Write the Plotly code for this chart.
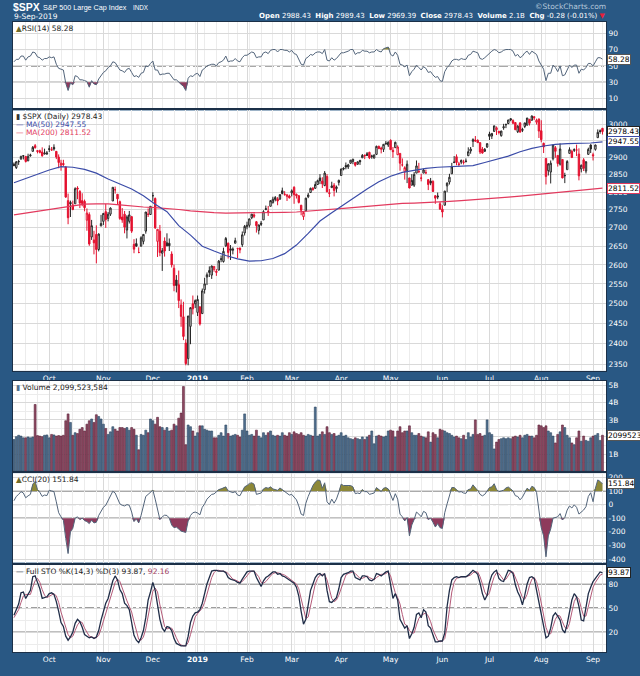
import math
import pandas as pd
import plotly.graph_objects as go

# ---------------- data ----------------
START = '2018-09-10'
END = '2019-09-09'
HOLIDAYS = ['2018-11-22', '2018-12-05', '2018-12-25', '2019-01-01', '2019-01-21',
            '2019-02-18', '2019-04-19', '2019-05-27', '2019-07-04', '2019-09-02']
MONTH_LABELS = ['Oct', 'Nov', 'Dec', '<b>2019</b>', 'Feb', 'Mar', 'Apr', 'May', 'Jun', 'Jul', 'Aug', 'Sep']

OPEN = [2881,2871,2888,2896,2906,2904,2891,2906,2919,2936,2921,2921,2917,2911,2911,
        2927,2924,2931,2919,2902,2878,2883,2873,2776,2771,2764,2767,2812,2802,2776,2774,2721,2737,2675,2667,2682,2641,2705,
        2718,2745,2726,2738,2775,2807,2794,2773,2730,2738,2694,2718,2731,2655,2657,2633,2650,2663,2691,2737,2737,
        2790,2782,2663,2691,2631,2664,2659,2658,2629,2591,2560,2548,2496,2466,2401,2363,2442,2499,2499,
        2477,2491,2474,2535,2568,2580,2573,2588,2580,2586,2614,2609,2651,2658,2643,2639,2658,2644,2645,2654,2686,
        2703,2707,2728,2736,2717,2693,2713,2722,2751,2744,2760,2770,2779,2781,2780,2804,2793,2788,2789,
        2798,2814,2794,2790,2763,2731,2747,2787,2799,2811,2811,2822,2841,2832,2819,2845,2796,2813,2820,2810,2828,
        2848,2869,2877,2873,2884,2889,2886,2881,2892,2900,2908,2912,2916,2904,2899,2910,2934,2929,2925,2941,2938,
        2952,2922,2930,2909,2913,2879,2859,2863,2841,2820,2820,2855,2859,2841,2855,2856,2836,2832,2831,2790,2786,2767,
        2752,2763,2818,2829,2853,2886,2903,2882,2887,2886,2889,2906,2920,2949,2953,2952,2945,2926,2919,2932,
        2971,2965,2979,2984,2979,2966,2990,2999,3003,3018,3012,3006,2978,3005,2982,2994,2998,3016,3013,3024,3007,3017,
        2981,2943,2898,2862,2858,2897,2930,2907,2881,2895,2847,2865,2913,2919,2922,2923,2911,2867,2894,2861,2910,2938,
        2909,2925,2960,2981,2988.43]
HIGH = [2886,2890,2894,2906,2908,2905,2912,2912,2935,2941,2923,2924,2931,2927,2920,
        2937,2932,2940,2920,2910,2894,2894,2874,2796,2776,2776,2814,2817,2806,2797,2779,2754,2743,2722,2692,2707,2685,2736,
        2741,2767,2744,2757,2814,2816,2794,2776,2755,2747,2735,2747,2733,2669,2671,2647,2677,2682,2744,2754,2760,
        2800,2785,2696,2708,2645,2674,2685,2671,2636,2601,2573,2585,2510,2504,2410,2468,2490,2520,2510,
        2520,2493,2538,2566,2580,2596,2598,2597,2589,2613,2625,2646,2675,2660,2653,2647,2673,2645,2646,2690,2708,
        2717,2725,2738,2740,2719,2709,2719,2749,2762,2761,2775,2787,2789,2786,2794,2813,2803,2795,2793,
        2808,2817,2796,2791,2764,2745,2784,2798,2813,2815,2831,2836,2852,2843,2861,2852,2809,2830,2826,2819,2836,
        2868,2872,2886,2882,2893,2896,2886,2889,2894,2911,2909,2917,2918,2909,2910,2936,2936,2933,2940,2950,2949,
        2955,2932,2948,2937,2913,2898,2875,2892,2841,2852,2858,2892,2885,2853,2868,2865,2837,2841,2834,2791,2799,2772,
        2763,2804,2828,2853,2885,2905,2910,2888,2895,2894,2898,2931,2932,2958,2965,2955,2946,2932,2929,2943,
        2978,2973,2996,2994,2981,2981,3002,3003,3014,3018,3016,3006,2998,3007,2990,3005,3020,3017,3028,3025,3018,3018,
        3013,2945,2898,2884,2892,2938,2935,2907,2943,2895,2856,2893,2931,2924,2928,2939,2928,2880,2899,2890,2930,2940,
        2915,2939,2985,2985,2989.43]
LOW = [2875,2867,2879,2895,2895,2886,2890,2903,2919,2927,2913,2913,2903,2910,2909,
       2917,2921,2921,2896,2869,2862,2875,2784,2710,2730,2749,2767,2780,2755,2760,2746,2692,2651,2667,2628,2604,2636,2705,
       2708,2700,2718,2733,2775,2796,2764,2722,2714,2685,2671,2712,2686,2631,2649,2631,2649,2655,2684,2730,2737,
       2774,2697,2621,2623,2584,2622,2650,2637,2593,2531,2528,2488,2441,2408,2347,2347,2398,2472,2488,
       2468,2444,2474,2525,2547,2568,2563,2582,2571,2586,2607,2606,2648,2617,2613,2628,2658,2618,2631,2648,2679,
       2696,2701,2724,2727,2687,2682,2705,2722,2749,2733,2760,2768,2774,2763,2779,2794,2790,2775,2782,
       2788,2767,2782,2768,2735,2722,2747,2783,2799,2804,2810,2821,2823,2812,2817,2800,2786,2812,2788,2799,2819,
       2848,2863,2866,2867,2882,2881,2874,2879,2879,2899,2896,2905,2896,2897,2898,2908,2926,2913,2917,2939,2932,
       2923,2900,2930,2908,2862,2874,2836,2826,2811,2820,2815,2855,2855,2831,2855,2852,2806,2820,2801,2767,2780,2751,
       2729,2763,2800,2822,2853,2884,2878,2874,2881,2880,2886,2905,2912,2932,2948,2944,2911,2912,2918,2929,
       2953,2956,2978,2968,2970,2963,2984,2989,3001,3010,3001,2984,2974,2975,2977,2989,2997,2997,3012,3014,3000,2959,
       2946,2914,2822,2848,2825,2892,2900,2874,2877,2840,2826,2865,2913,2899,2917,2905,2834,2857,2861,2854,2910,2914,
       2892,2921,2960,2972,2969.39]
CLOSE = [2877,2888,2889,2904,2905,2889,2904,2908,2931,2930,2919,2916,2906,2914,2914,
         2925,2923,2926,2902,2886,2884,2880,2786,2728,2767,2751,2810,2809,2769,2768,2756,2741,2656,2706,2659,2641,2683,2712,
         2740,2723,2738,2755,2814,2807,2781,2726,2722,2702,2730,2736,2691,2642,2650,2633,2673,2682,2744,2738,2760,
         2790,2700,2696,2633,2638,2637,2651,2651,2600,2546,2546,2507,2467,2417,2351,2468,2489,2486,2507,
         2510,2448,2532,2550,2574,2585,2597,2596,2583,2610,2616,2636,2671,2633,2639,2642,2665,2644,2640,2681,2704,
         2707,2725,2738,2732,2706,2708,2710,2745,2753,2746,2776,2780,2785,2775,2793,2796,2794,2792,2784,
         2804,2793,2790,2771,2749,2743,2783,2792,2811,2808,2822,2833,2833,2824,2855,2801,2798,2818,2805,2815,2834,
         2867,2867,2873,2879,2893,2896,2878,2888,2888,2907,2906,2907,2900,2905,2908,2934,2927,2926,2940,2943,2946,
         2924,2918,2946,2932,2884,2879,2871,2881,2812,2834,2851,2876,2860,2840,2864,2856,2822,2826,2802,2783,2789,2752,
         2744,2803,2826,2843,2873,2887,2886,2880,2892,2887,2890,2918,2926,2954,2950,2945,2917,2914,2925,2942,
         2964,2973,2996,2990,2976,2980,2993,3000,3014,3014,3004,2984,2995,2977,2985,3005,3020,3004,3026,3021,3013,2980,
         2954,2932,2845,2882,2884,2938,2919,2883,2926,2841,2848,2889,2924,2901,2924,2923,2847,2878,2869,2888,2925,2926,
         2906,2938,2976,2978.71,2978.43]
VOLUME_B = [1.85,2.02,2.10,2.05,1.95,1.95,2.00,1.95,2.00,3.90,2.08,2.05,2.02,2.10,2.12,
            1.95,2.15,2.12,2.05,2.08,2.05,2.10,2.95,3.35,2.85,2.10,2.25,2.20,2.45,2.55,2.35,2.75,2.95,3.05,2.85,3.30,3.20,3.05,
            2.75,2.50,2.15,2.30,2.60,2.45,2.35,2.55,2.55,2.50,2.55,2.40,2.55,2.45,2.10,1.25,2.15,2.10,2.40,2.25,3.05,
            2.95,2.75,3.15,2.60,2.55,2.40,2.55,2.35,2.40,2.75,2.65,3.10,3.40,4.95,1.55,2.70,2.60,2.35,2.05,
            2.25,2.65,2.65,2.45,2.40,2.35,2.35,1.95,1.95,2.10,2.25,2.05,2.70,2.20,2.05,2.10,2.15,2.10,2.00,2.40,3.35,
            2.35,2.10,2.15,2.05,2.40,2.05,1.95,2.25,2.10,2.25,2.35,2.10,2.05,2.10,2.05,2.25,2.10,2.05,2.25,
            2.15,2.30,2.20,2.15,2.25,2.10,2.05,2.15,2.10,2.05,3.75,2.05,2.15,2.30,2.15,2.60,2.25,2.15,2.20,2.05,2.10,
            2.25,2.05,2.10,1.95,1.90,1.85,1.95,1.90,1.85,2.00,1.85,2.00,2.10,2.35,1.60,2.05,2.10,2.05,2.00,2.05,2.35,
            2.40,2.35,2.00,2.35,2.60,2.25,2.35,2.35,2.65,2.25,2.10,2.10,2.20,2.05,2.00,1.95,2.30,1.70,2.25,2.15,1.95,2.45,
            2.40,2.35,2.25,2.20,2.10,2.00,2.05,1.95,1.90,2.10,1.85,2.25,2.00,2.15,3.00,2.15,2.20,2.05,2.10,3.00,
            2.25,2.15,1.30,1.70,1.85,1.90,1.95,1.90,1.95,1.90,2.00,2.05,2.00,2.10,1.95,2.10,2.15,2.05,2.05,1.95,2.10,2.70,
            2.65,2.55,2.65,2.35,2.25,2.05,1.65,2.15,2.30,2.70,2.55,2.10,1.95,1.65,1.55,1.95,2.35,1.75,2.05,1.80,1.75,1.95,
            2.05,2.10,2.20,1.80,2.099523584]

MA_IDX = list(range(0, 251, 5))
MA50 = [2827,2840,2853,2864,2874,2872,2866,2855,2838,2824,
        2809,2790,2766,2745,2706,2680,2650,2637,2625,2616,
        2610,2611,2617,2630,2653,2685,2719,2742,2764,2788,
        2809,2830,2846,2857,2864,2869,2872,2873,2874,2877,
        2886,2895,2905,2918,2928,2935,2940,2942,2943,2944,2947.55]
MA200 = [2736,2741,2746,2752,2758,2763,2766,2767,2767,2764,
         2760,2758,2756,2754,2751,2747,2744,2742,2741,2741,
         2741,2741,2742,2743,2744,2746,2748,2751,2754,2757,
         2760,2763,2766,2768,2769,2770,2772,2774,2776,2778,
         2780,2783,2786,2789,2792,2795,2799,2802,2805,2808,2811.52]

RSI = [55,58,58,62,62,57,61,62,67,66,61,60,57,59,59,61,60,61,
       52,47,46,45,29,20,29,27,38,37,33,33,32,31,24,32,28,27,34,38,
       42,44,48,50,55,54,50,45,44,42,46,47,42,37,38,36,41,42,50,49,53,56,
       45,45,39,40,40,41,41,37,33,33,30,27,25,20,35,38,37,40,
       41,37,45,47,50,51,52,52,50,54,55,57,62,55,56,56,59,56,55,60,63,63,
       65,67,66,60,61,61,66,67,65,69,70,70,67,70,70,69,69,67,69,65,64,58,52,51,59,61,64,63,66,67,67,65,70,57,56,60,57,59,62,
       66,66,67,68,70,70,64,66,66,69,68,68,66,67,67,70,68,67,71,72,73,
       64,62,67,63,52,51,49,51,38,43,46,51,48,45,49,47,42,43,39,36,37,32,
       31,43,48,51,56,58,58,57,59,58,58,63,64,68,67,66,59,58,60,63,
       66,68,70,69,66,67,69,70,70,70,68,62,64,60,62,66,68,64,68,66,64,56,
       50,46,32,41,41,51,48,43,50,38,39,46,51,48,51,51,41,46,45,48,53,53,
       50,55,60,60,58.28]

CCI = [28,60,75,95,85,50,64,75,150,170,110,90,60,70,66,105,100,95,20,-60,-90,-115,-250,-360,-200,-175,-100,-90,-110,-100,
       -118,-125,-140,-115,-135,-130,-80,-50,-20,-5,30,70,98,85,40,5,-5,-10,0,-5,-55,-125,-105,-135,-80,-10,60,75,90,106,
       40,-30,-110,-90,-78,-80,-100,-150,-170,-165,-180,-195,-200,-205,-120,-80,-60,-55,-62,-75,-20,5,40,60,75,78,95,110,115,120,
       130,100,92,88,95,70,65,100,130,140,155,160,150,75,80,85,115,125,120,130,115,110,105,122,110,95,85,70,75,55,
       35,-10,-70,-80,10,60,100,140,165,180,178,
       120,160,20,0,40,10,40,90,150,140,140,135,140,130,80,85,80,110,95,95,75,80,85,125,110,95,120,125,115,65,
       30,80,40,-70,-90,-120,-95,-230,-150,-110,-55,-70,-90,-50,-60,-110,-100,-130,-165,-140,
       -170,-175,-60,5,60,125,125,110,92,95,85,82,110,115,145,122,105,75,64,75,99,125,130,153,111,95,100,106,122,129,
       115,100,65,60,35,55,87,120,105,134,125,90,-40,-170,-230,-384,-230,-180,-100,-95,
       -90,-66,-113,-95,-40,-10,-25,-2,-20,-70,-55,-40,-15,60,87,21,120,181,170,151.84]

STO_K = [41,48,55,69,70,62,68,72,89,90,82,74,62,63,64,68,69,67,58,46,32,27,15,10,14,20,31,36,33,26,
         17,15,13,14,12,14,22,35,45,56,62,72,84,90,85,73,68,56,53,48,34,16,10,7,13,22,38,60,70,82,
         72,55,36,25,21,27,26,22,12,6,4,3,3,3,15,32,40,44,45,48,56,68,80,88,96,97,97,96,96,96,
         94,88,86,85,84,82,81,86,90,95,96,96,96,88,82,77,84,88,90,93,95,95,92,93,90,89,87,85,84,81,
         76,65,46,30,36,52,72,80,88,92,93,
         90,93,72,58,57,60,63,74,88,92,93,94,96,96,88,87,85,90,90,89,85,84,86,93,92,90,93,95,96,78,
         62,68,60,36,30,25,28,12,18,26,42,44,38,48,45,28,25,15,8,8,
         9,9,19,52,72,85,88,89,88,89,89,89,91,94,97,95,92,81,68,60,66,82,91,95,97,87,84,83,91,97,
         96,93,79,70,64,54,66,80,88,89,87,72,55,40,25,13,15,25,40,44,
         40,35,23,19,30,45,60,68,64,52,35,34,50,68,76,83,87,91,95,93.87]
STO_D = [38,43,48,57,65,67,67,67,76,84,87,82,73,66,63,65,67,68,65,57,45,35,25,17,13,15,22,29,33,32,
         25,19,15,14,13,13,16,24,34,45,54,63,73,82,86,83,75,66,59,52,45,33,20,11,10,14,24,40,56,71,
         75,70,54,39,27,24,25,25,20,13,7,4,3,3,7,17,29,39,43,46,50,57,68,79,88,94,97,97,96,96,
         95,93,89,86,85,84,82,83,86,90,94,96,96,93,89,82,81,83,87,90,93,94,94,93,92,91,89,87,85,83,
         80,74,62,47,37,39,53,68,80,87,91,
         92,92,85,74,62,58,60,66,75,85,91,93,94,95,93,90,87,87,88,90,88,86,85,88,90,92,92,93,95,90,
         79,69,63,55,42,30,28,22,19,19,29,37,41,43,44,40,33,23,16,10,
         8,9,12,27,48,70,82,87,88,89,89,89,90,91,94,95,95,89,80,70,65,69,80,89,94,93,89,85,86,90,
         95,95,89,81,71,63,61,67,78,86,88,83,71,56,40,26,18,18,27,36,
         41,40,33,26,24,31,45,58,64,61,50,40,40,51,65,76,82,87,91,92.16]

PRICE_TICKS = [2350, 2400, 2450, 2500, 2550, 2600, 2650, 2700, 2750, 2800, 2850, 2900, 2950, 3000]
PRICE_HIDDEN = [2950]          # label hidden behind the value tag in the reference
VOL_TICKS_B = [1, 2, 3, 4, 5]
VOL_HIDDEN = [2]
RSI_TICKS = [10, 30, 50, 70, 90]
CCI_TICKS = [200, 100, 0, -100, -200, -300, -400]
STO_TICKS = [20, 50, 80]
RSI_LEVELS = (30, 50, 70)
CCI_LEVELS = (-100, 0, 100)
STO_LEVELS = (20, 50, 80)

# ---------------- derived positions ----------------
N = len(CLOSE)
for arr in (OPEN, HIGH, LOW, VOLUME_B, RSI, CCI, STO_K, STO_D):
    assert len(arr) == N, len(arr)
hol = set(HOLIDAYS)
dates = [d for d in pd.bdate_range(START, END) if d.strftime('%Y-%m-%d') not in hol]
assert len(dates) == N, len(dates)
X = list(range(N))
month_idx = [i for i in range(1, N) if dates[i].month != dates[i - 1].month]
week_idx = [i for i in range(1, N) if dates[i].weekday() < dates[i - 1].weekday()]
up = [True] + [CLOSE[i] >= CLOSE[i - 1] for i in range(1, N)]

# ---------------- styling ----------------
W, H = 640, 676
PL, PR, PT, PB = 12, 608, 22, 663
BG = '#295884'
FRAME = '#1b3048'
GRID = '#d9d9d9'
MGRID = '#ececec'
FONT = 'DejaVu Sans'
TICKFONT = dict(family=FONT, size=7.5, color='white')
XRANGE = [-0.4, 251.5]

def dom(top_px, bot_px):
    return [(PB - bot_px) / (PB - PT), (PB - top_px) / (PB - PT)]

def ypx(px):
    return (PB - px) / (PB - PT)

def xpx(px):
    return (px - PL) / (PR - PL)

fig = go.Figure()

def band(vals, level, above, color, xa, ya):
    clipped = [max(v, level) if above else min(v, level) for v in vals]
    return [go.Scatter(x=X, y=[level] * N, mode='lines', line=dict(width=0), hoverinfo='skip', xaxis=xa, yaxis=ya),
            go.Scatter(x=X, y=clipped, mode='lines', line=dict(width=0), fill='tonexty', fillcolor=color,
                       hoverinfo='skip', xaxis=xa, yaxis=ya)]

OLIVE = '#8d8838'
MAROON = '#8e3a5c'
IND_LINE = '#52647a'

# RSI panel
for t in band(RSI, RSI_LEVELS[2], True, OLIVE, 'x', 'y') + band(RSI, RSI_LEVELS[0], False, MAROON, 'x', 'y'):
    fig.add_trace(t)
fig.add_trace(go.Scatter(x=X, y=RSI, mode='lines', line=dict(color=IND_LINE, width=1), xaxis='x', yaxis='y'))

# Price panel
def candles(ids, color):
    return go.Candlestick(x=ids, open=[OPEN[i] for i in ids], high=[HIGH[i] for i in ids],
                          low=[LOW[i] for i in ids], close=[CLOSE[i] for i in ids],
                          increasing=dict(line=dict(color=color, width=1), fillcolor='white'),
                          decreasing=dict(line=dict(color=color, width=1), fillcolor=color),
                          whiskerwidth=0, xaxis='x2', yaxis='y2', hoverinfo='skip')

MA50_C = '#3b4ca8'
MA200_C = '#e23a5e'
UP_C = '#262626'
DN_C = '#e4112f'
fig.add_trace(go.Scatter(x=MA_IDX, y=MA200, mode='lines', line=dict(color=MA200_C, width=1.2), xaxis='x2', yaxis='y2'))
fig.add_trace(go.Scatter(x=MA_IDX, y=MA50, mode='lines', line=dict(color=MA50_C, width=1.2), xaxis='x2', yaxis='y2'))
fig.add_trace(candles([i for i in X if up[i]], UP_C))
fig.add_trace(candles([i for i in X if not up[i]], DN_C))

# Volume
fig.add_trace(go.Bar(x=X, y=[v * 1e9 for v in VOLUME_B], width=0.82,
                     marker=dict(color=['#51708f' if u else '#8f4a64' for u in up],
                                 line=dict(color=['#2b4560' if u else '#5b2238' for u in up], width=0.6)),
                     xaxis='x3', yaxis='y3', hoverinfo='skip'))

# CCI
for t in band(CCI, CCI_LEVELS[2], True, OLIVE, 'x4', 'y4') + band(CCI, CCI_LEVELS[0], False, MAROON, 'x4', 'y4'):
    fig.add_trace(t)
fig.add_trace(go.Scatter(x=X, y=CCI, mode='lines', line=dict(color=IND_LINE, width=1), xaxis='x4', yaxis='y4'))

# Full STO
fig.add_trace(go.Scatter(x=X, y=STO_D, mode='lines', line=dict(color='#b45a78', width=1), xaxis='x5', yaxis='y5'))
fig.add_trace(go.Scatter(x=X, y=STO_K, mode='lines', line=dict(color='#202d48', width=1.3), xaxis='x5', yaxis='y5'))

# ---------------- axes ----------------
def xcfg(anchor, labels, match=True):
    d = dict(anchor=anchor, domain=[0, 1], range=XRANGE, tickmode='array', tickvals=month_idx,
             ticktext=MONTH_LABELS, showticklabels=labels, ticks='', tickfont=TICKFONT,
             showgrid=True, gridcolor=GRID, gridwidth=1, zeroline=False,
             showline=True, mirror=True, linecolor=FRAME, linewidth=1, fixedrange=True,
             minor=dict(tickmode='array', tickvals=week_idx, showgrid=True, gridcolor=MGRID, ticks=''))
    if match:
        d['matches'] = 'x'
    return d

def ycfg(anchor, domain, rng, tickvals, ticktext, typ='linear', minor=None):
    d = dict(anchor=anchor, domain=domain, range=rng, type=typ, side='right', tickmode='array',
             tickvals=tickvals, ticktext=ticktext, ticks='', tickfont=TICKFONT,
             showgrid=True, gridcolor=GRID, gridwidth=1, zeroline=False,
             showline=True, mirror=True, linecolor=FRAME, linewidth=1, fixedrange=True)
    if minor:
        d['minor'] = dict(tickmode='array', tickvals=minor, showgrid=True, gridcolor=MGRID, ticks='')
    return d

price_lo = 3000 * math.exp(-(377 - 126.3) / 998)
price_hi = 3000 * math.exp((126.3 - 112) / 998)

fig.update_layout(
    xaxis=xcfg('y', False, match=False),
    xaxis2=dict(xcfg('y2', True), rangeslider=dict(visible=False)),
    xaxis3=xcfg('y3', False),
    xaxis4=xcfg('y4', False),
    xaxis5=xcfg('y5', True),
    yaxis=ycfg('x', dom(22, 110), [-2, 103.6], RSI_TICKS, [str(v) for v in RSI_TICKS]),
    yaxis2=ycfg('x2', dom(112, 377), [math.log10(price_lo), math.log10(price_hi)], PRICE_TICKS,
                ['' if v in PRICE_HIDDEN else str(v) for v in PRICE_TICKS], typ='log'),
    yaxis3=ycfg('x3', dom(387, 479), [0, 5.29e9], [v * 1e9 for v in VOL_TICKS_B],
                ['' if v in VOL_HIDDEN else f'{v}B' for v in VOL_TICKS_B],
                minor=[v * 1e9 - 0.5e9 for v in VOL_TICKS_B]),
    yaxis4=ycfg('x4', dom(481, 572), [-426, 231], CCI_TICKS, [str(v) for v in CCI_TICKS]),
    yaxis5=ycfg('x5', dom(574, 663), [-4.7, 104.2], STO_TICKS, [str(v) for v in STO_TICKS],
                minor=[5, 35, 65, 95]),
)

shapes = []
for xa, ya, levels in (('x', 'y', RSI_LEVELS), ('x4', 'y4', CCI_LEVELS), ('x5', 'y5', STO_LEVELS)):
    for k, lv in enumerate(levels):
        mid = (k == 1)
        shapes.append(dict(type='line', xref=f'{xa} domain', x0=0, x1=1, yref=ya, y0=lv, y1=lv, layer='below',
                           line=dict(color='#222' if mid else '#444', width=1, dash='dashdot' if mid else 'solid')))

# ---------------- annotations ----------------
ann = []
def tag(text, y, yref, border):
    ann.append(dict(text=text, x=1, xref='paper', xanchor='left', xshift=1, y=y, yref=yref, yanchor='middle',
                    showarrow=False, bgcolor='white', bordercolor=border, borderwidth=1, borderpad=0,
                    font=dict(family=FONT, size=7.5, color='black')))

tag(f'{RSI[-1]:.2f}', RSI[-1], 'y', '#555')
tag(f'{CLOSE[-1]:.2f}', math.log10(CLOSE[-1]), 'y2', '#222')
tag(f'{MA50[-1]:.2f}', math.log10(MA50[-1]), 'y2', MA50_C)
tag(f'{MA200[-1]:.2f}', math.log10(MA200[-1]), 'y2', MA200_C)
tag(f'{int(round(VOLUME_B[-1] * 1e9))}', VOLUME_B[-1] * 1e9, 'y3', '#555')
tag(f'{CCI[-1]:.2f}', CCI[-1], 'y4', '#555')
tag(f'{STO_K[-1]:.2f}', STO_K[-1], 'y5', '#222')

def label(text, yref, shift, color='#222', size=7.5):
    ann.append(dict(text=text, x=0, xref='paper', xanchor='left', xshift=1, y=1, yref=yref, yanchor='top',
                    yshift=shift, showarrow=False, font=dict(family=FONT, size=size, color=color)))

label(f'<span style="color:#6e6a2a">▲</span>RSI(14) {RSI[-1]:.2f}', 'y domain', 0)
label(f'<span style="color:#333">▮</span> $SPX (Daily) {CLOSE[-1]:.2f}', 'y2 domain', 0)
label(f'— MA(50) {MA50[-1]:.2f}', 'y2 domain', -8, MA50_C)
label(f'— MA(200) {MA200[-1]:.2f}', 'y2 domain', -16, MA200_C)
label(f'<span style="color:#51708f">▮</span> Volume {int(round(VOLUME_B[-1] * 1e9)):,}', 'y3 domain', 0)
label(f'<span style="color:#6e6a2a">▲</span>CCI(20) {CCI[-1]:.2f}', 'y4 domain', 0)
label(f'<span style="color:#202d48">—</span> Full STO %K(14,3) %D(3) {STO_K[-1]:.2f}, '
      f'<span style="color:#a04060">{STO_D[-1]:.2f}</span>', 'y5 domain', 0)

def head(text, xp, yp, anchor, size, color='white', family=FONT):
    ann.append(dict(text=text, x=xpx(xp), xref='paper', xanchor=anchor, y=ypx(yp), yref='paper',
                    yanchor='middle', showarrow=False, font=dict(family=family, size=size, color=color)))

last = dates[-1]
chg = CLOSE[-1] - CLOSE[-2]
pct = chg / CLOSE[-2] * 100
head('<b>$SPX</b>', 10, 6.5, 'left', 10.5, family='Liberation Sans')
head('S&P 500 Large Cap Index', 40, 7, 'left', 7.2, family='Liberation Sans')
head('INDX', 131, 7, 'left', 6.3, family='Liberation Sans')
head(f'{last.day}-{last.strftime("%b-%Y")}', 11, 16, 'left', 7.5)
head('©StockCharts.com', 610, 6, 'right', 7.5, color='#b7c9dc')
head(f'<b>Open</b> {OPEN[-1]:.2f}  <b>High</b> {HIGH[-1]:.2f}  <b>Low</b> {LOW[-1]:.2f}  '
     f'<b>Close</b> {CLOSE[-1]:.2f}  <b>Volume</b> {VOLUME_B[-1]:.1f}B  '
     f'<b>Chg</b> {chg:.2f} ({pct:.2f}%) <span style="color:#e8203a">▼</span>', 610, 16, 'right', 7)

fig.update_layout(
    width=W, height=H, margin=dict(l=PL, r=W - PR, t=PT, b=H - PB, pad=0),
    paper_bgcolor=BG, plot_bgcolor='white', showlegend=False,
    font=dict(family=FONT, size=8, color='white'),
    boxgap=0.15, bargap=0.1, shapes=shapes, annotations=ann,
)

fig.write_html('out.html')
